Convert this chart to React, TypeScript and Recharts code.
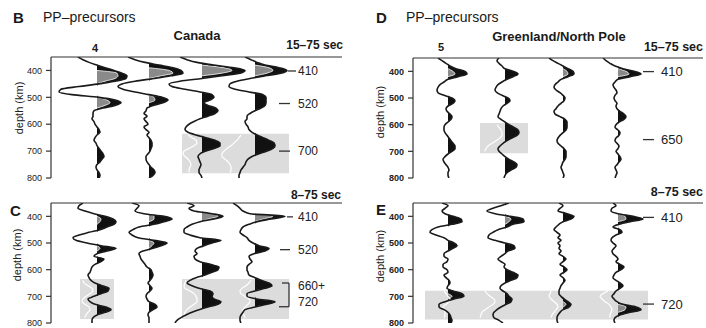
import React from 'react';
import { ComposedChart, Line, Area, XAxis, YAxis, ReferenceArea, ReferenceLine } from 'recharts';

const FONT = '"Liberation Sans", Arial, Helvetica, sans-serif';

// depth grid (km)
const depths = [
  350, 360, 370, 380, 390, 400, 410, 420, 430, 440,
  450, 460, 470, 480, 490, 500, 510, 520, 530, 540,
  550, 560, 570, 580, 590, 600, 610, 620, 630, 640,
  650, 660, 670, 680, 690, 700, 710, 720, 730, 740,
  750, 760, 770, 780, 790, 800,
];
const depthTicks = [400, 500, 600, 700, 800];

// ---- Panel B: Canada, 15-75 sec ----
const bTrace1 = [
  -19, -14, -8, 0, 8, 17, 25, 30, 29, 18,
  2, -18, -36, -38, -25, 2, 18, 24, 18, 6,
  -3, -4, -4, -5, -3, -2, 0, 2, 3, 0,
  -2, -3, -1, 0, 2, 4, 6, 7, 5, 3,
  0, -1, 0, 2, 3, 2,
];
const bTrace2 = [
  -21, -14, -4, 10, 24, 32, 34, 22, 5, -14,
  -27, -31, -26, -14, 0, 13, 19, 14, 4, -2,
  -3, -5, -2, -5, -3, -1, -5, -3, 0, -2,
  0, 2, 3, 3, 2, 1, -1, -3, -3, -2,
  0, 2, 5, 6, 4, 0,
];
const bTrace3 = [
  -22, -15, -5, 12, 32, 43, 38, 20, 0, -22,
  -33, -30, -17, -2, 10, 12, 8, 2, 6, 14,
  16, 13, 6, -2, -8, -13, -16, -17, -14, -6,
  4, 13, 18, 18, 12, 4, -2, -4, -3, -2,
  -1, -2, -3, -3, -1, 0,
];
const bTrace4 = [
  -10, -4, 2, 10, 24, 32, 26, 10, -5, -18,
  -25, -26, -20, -6, 8, 11, 11, 11, 10, 6,
  0, -5, -8, -8, -10, -9, -7, -6, -3, 2,
  8, 14, 19, 20, 18, 12, 4, -3, -7, -9,
  -10, -12, -14, -15, -16, -16,
];
const bGray: Record<number, number>[] = [
  { 400: 0, 410: 20, 420: 21, 430: 18, 440: 8, 450: 0, 500: 0, 510: 10, 520: 13, 530: 8, 540: 0 },
  { 390: 0, 400: 20, 410: 24, 420: 12, 430: 0, 490: 0, 500: 5, 510: 6, 520: 0 },
  { 380: 0, 390: 22, 400: 30, 410: 20, 420: 0 },
  { 380: 0, 390: 14, 400: 18, 410: 12, 420: 0 },
];
const bWhite: Record<number, number>[] = [
  {},
  {},
  { 640: -14, 650: -10, 660: -6, 670: -5, 680: -8, 690: -13, 700: -18, 710: -19, 720: -17, 730: -14, 740: -12, 750: -11, 760: -12, 770: -13, 780: -13 },
  { 640: -14, 650: -16, 660: -18, 670: -21, 680: -24, 690: -28, 700: -31, 710: -33, 720: -33, 730: -30, 740: -27, 750: -25, 760: -24, 770: -24, 780: -25 },
];

// ---- Panel C: Canada, 8-75 sec ----
const cTrace1 = [
  -14, -18, -19, -12, -3, 8, 16, 19, 17, 10,
  3, -8, -18, -24, -21, -10, 4, 19, 10, 0,
  -3, 7, 4, -2, -5, -6, -7, -9, -8, -6,
  -2, 5, 12, 11, 4, -3, -9, -7, -2, 9,
  14, 8, 0, -4, -5, -5,
];
const cTrace2 = [
  -17, -10, -12, -14, -5, 15, 23, 15, 5, -10,
  -16, -20, -17, -11, 5, 18, 12, 4, -6, -10,
  -9, -8, -6, -4, -2, 2, 3, 4, 3, 1,
  -1, 1, 3, 1, -2, -3, -2, 0, 6, 8,
  4, 0, -1, 0, 0, 0,
];
const cTrace3 = [
  -15, -8, -13, -8, 10, 21, 12, -2, -10, -15,
  -18, -18, -12, -2, 19, 10, 2, -5, -7, -5,
  -8, -7, -2, 8, 17, 16, 10, 3, -6, -12,
  -15, -10, -3, 8, 11, 10, 12, 19, 16, 6,
  -3, -10, -16, -21, -25, -27,
];
const cTrace4 = [
  -22, -18, -15, -12, -5, 30, 16, 2, -6, -12,
  -14, -15, -12, -8, -6, -2, 4, 14, 10, -1,
  -6, -5, -3, -6, -8, -8, -7, -6, 0, 6,
  14, 17, 10, 0, -8, -8, 2, 20, 12, 0,
  -10, -12, -14, -15, -15, -14,
];
const cGray: Record<number, number>[] = [
  { 400: 0, 410: 4, 420: 3, 430: 0, 510: 0, 520: 3, 530: 0 },
  { 390: 0, 400: 5, 410: 5, 420: 0, 490: 0, 500: 5, 510: 3, 520: 0 },
  { 380: 0, 390: 12, 400: 16, 410: 6, 420: 0 },
  { 390: 0, 400: 18, 410: 8, 420: 0 },
];
const cWhite: Record<number, number>[] = [
  { 640: -14, 650: -13, 660: -9, 670: -5, 680: -4, 690: -7, 700: -11, 710: -14, 720: -15, 730: -12, 740: -8, 750: -7, 760: -9, 770: -11, 780: -12 },
  {},
  { 640: -16, 650: -17, 660: -18, 670: -17, 680: -12, 690: -8, 700: -6, 710: -5, 720: -5, 730: -8, 740: -12, 750: -15, 760: -17, 770: -18, 780: -18 },
  { 640: -4, 650: -6, 660: -9, 670: -13, 680: -15, 690: -14, 700: -10, 710: -6, 720: -5, 730: -7, 740: -10, 750: -12, 760: -12, 770: -11, 780: -10 },
];

// ---- Panel D: Greenland/North Pole, 15-75 sec ----
const dTrace1 = [
  -10, -6, -2, 2, 8, 17, 19, 10, 0, -4,
  -8, -10, -11, -10, -4, 4, 7, 5, 0, -2,
  -1, 2, 4, 3, 0, -3, -4, -4, -3, -1,
  1, 3, 5, 7, 7, 4, 0, -3, -5, -4,
  -2, 0, 1, 0, 0, 1,
];
const dTrace2 = [
  -6, -8, -6, -3, 0, 8, 13, 8, 2, -3,
  -7, -9, -10, -8, -3, 3, 5, 2, -2, -4,
  -5, -6, -7, -4, 0, 4, 9, 13, 14, 12,
  7, 2, -2, -5, -7, -6, -3, 0, 4, 9,
  12, 11, 6, 2, 0, -1,
];
const dTrace3 = [
  -14, -10, -5, 0, 5, 10, 11, 5, -2, -5,
  -8, -9, -7, -3, 0, 2, 1, -2, -5, -7,
  -9, -8, -3, 2, 4, 4, 4, 3, 0, -3,
  -5, -6, -5, -2, 1, 3, 3, 3, 2, 0,
  -1, -2, -1, 0, 1, 0,
];
const dTrace4 = [
  -15, -12, -8, -3, 5, 16, 23, 12, 0, -3,
  -5, -4, -2, -1, -3, -4, -3, -1, -2, -1,
  2, 6, 8, 6, 1, -2, -3, 0, 2, 1,
  -2, -3, -1, 1, 0, -2, 0, 2, 3, 1,
  -1, -3, -2, -1, -2, -3,
];
const dGray: Record<number, number>[] = [
  { 390: 0, 400: 5, 410: 7, 420: 0 },
  {},
  { 390: 0, 400: 4, 410: 5, 420: 0 },
  { 390: 0, 400: 8, 410: 11, 420: 0 },
];
const dWhite: Record<number, number>[] = [
  {},
  { 600: -8, 610: -6, 620: -4, 630: -3, 640: -3, 650: -5, 660: -9, 670: -13, 680: -17, 690: -19, 700: -20 },
  {},
  {},
];

// ---- Panel E: Greenland/North Pole, 8-75 sec ----
const eTrace1 = [
  -6, 0, -3, -6, -3, 5, 13, 14, 4, -10,
  -16, -18, -12, -4, 0, 6, 9, 5, 0, -4,
  -4, 0, -1, -5, -5, -1, 0, -4, -2, 1,
  2, 0, -1, 5, 14, 16, 6, -3, -9, -9,
  -4, 0, 2, 3, 4, 3,
];
const eTrace2 = [
  4, -4, -12, -18, -10, 5, 18, 19, 8, 2,
  -7, -12, -16, -17, -10, 0, 9, 10, 3, 0,
  -4, -7, -4, 0, -1, 2, 8, 13, 12, 6,
  0, -4, -5, -2, 2, 4, 7, 6, 1, -4,
  -8, -11, -12, -11, -6, -2,
];
const eTrace3 = [
  -4, 0, -3, -5, 4, 11, 8, 0, -4, -7,
  -9, -6, -3, -5, -2, -5, -3, -4, -2, -4,
  0, 3, 0, -3, 1, 4, 1, -3, 0, 2,
  0, -2, -3, -4, -4, -2, 1, 5, 8, 6,
  0, -3, -5, -6, -6, -5,
];
const eTrace4 = [
  -5, -2, -6, -7, 0, 15, 25, 12, 1, -5,
  2, 4, -2, -6, -7, -5, -2, -4, -6, -5,
  -2, 0, -2, 2, 6, 3, -2, -4, -5, -2,
  2, 5, 2, -2, -4, -6, -4, -1, 5, 18,
  23, 12, 2, -3, -4, -3,
];
const eGray: Record<number, number>[] = [
  { 690: 0, 700: 4, 710: 0 },
  { 400: 0, 410: 6, 420: 4, 430: 0 },
  { 720: 0, 730: 3, 740: 0 },
  { 390: 0, 400: 7, 410: 8, 420: 0, 730: 0, 740: 8, 750: 7, 760: 0 },
];
const eWhite: Record<number, number>[] = [
  { 680: -4, 690: -2, 700: 0, 710: 2, 720: 1, 730: -2, 740: -5, 750: -4, 760: -3, 770: -3, 780: -4 },
  { 680: -20, 690: -18, 700: -15, 710: -11, 720: -10, 730: -12, 740: -16, 750: -20, 760: -23, 770: -24, 780: -25 },
  { 680: -12, 690: -13, 700: -14, 710: -12, 720: -9, 730: -6, 740: -5, 750: -7, 760: -9, 770: -11, 780: -12 },
  { 680: -10, 690: -15, 700: -18, 710: -16, 720: -13, 730: -9, 740: -7, 750: -6, 760: -7, 770: -8, 780: -8 },
];

// trace baselines (amplitude-axis units)
const offsetsLeft = [46, 98, 151, 204];
const offsetsRight = [35, 92, 150, 205];

type Rect = [number, number, number, number];
type Dash = [number, number, number];
type VSeg = [number, number, number];
type Txt = [string, number];

function buildRows(traces: number[][], offsets: number[], grays: Record<number, number>[], whites: Record<number, number>[]) {
  return depths.map((d, i) => {
    const row: Record<string, number | null> = { depth: d };
    traces.forEach((tr, k) => {
      const o = offsets[k];
      const v = tr[i];
      row[`l${k}`] = o + v;
      row[`f${k}`] = o + Math.max(v, 0);
      const g = grays[k][d];
      row[`g${k}`] = g === undefined ? null : o + g;
      const w = whites[k][d];
      row[`w${k}`] = w === undefined ? null : o + w;
    });
    return row;
  });
}

interface PanelProps {
  left: number;
  top: number;
  width: number;
  height: number;
  margin: { top: number; right: number; bottom: number; left: number };
  xMax: number;
  traces: number[][];
  offsets: number[];
  grays: Record<number, number>[];
  whites: Record<number, number>[];
  rects: Rect[];
  dashes: Dash[];
  vsegs: VSeg[];
  texts: Txt[];
  textX: number;
  labelSize: number;
  boldTicks: boolean;
}

function Panel(p: PanelProps) {
  const rows = buildRows(p.traces, p.offsets, p.grays, p.whites);
  return (
    <div style={{ position: 'absolute', left: p.left, top: p.top }}>
      <ComposedChart layout="vertical" width={p.width} height={p.height} data={rows} margin={p.margin}>
        <XAxis type="number" domain={[0, p.xMax]} hide allowDataOverflow />
        <YAxis
          type="number"
          dataKey="depth"
          domain={[350, 800]}
          ticks={depthTicks}
          interval={0}
          allowDataOverflow
          width={51}
          tickSize={5}
          tickMargin={4}
          axisLine={{ stroke: '#333', strokeWidth: 1.2 }}
          tickLine={{ stroke: '#333', strokeWidth: 1.2 }}
          tick={{ fontSize: 9, fill: '#222', fontFamily: FONT, fontWeight: p.boldTicks ? 'bold' : 'normal' }}
        />
        {p.rects.map((r, i) => (
          <ReferenceArea key={`r${i}`} x1={r[0]} x2={r[1]} y1={r[2]} y2={r[3]} fill="#dcdcdc" fillOpacity={1} stroke="none" ifOverflow="visible" />
        ))}
        {p.offsets.map((o, k) => (
          <Area key={`f${k}`} dataKey={`f${k}`} baseValue={o} type="monotone" fill="#111" fillOpacity={1} stroke="none" dot={false} activeDot={false} isAnimationActive={false} />
        ))}
        {p.offsets.map((o, k) => (
          <Area key={`g${k}`} dataKey={`g${k}`} baseValue={o} type="monotone" fill="#8a8a8a" fillOpacity={1} stroke="#fff" strokeWidth={0.8} dot={false} activeDot={false} isAnimationActive={false} />
        ))}
        {p.offsets.map((o, k) => (
          <Line key={`w${k}`} dataKey={`w${k}`} type="monotone" stroke="#fff" strokeWidth={1.2} dot={false} activeDot={false} isAnimationActive={false} />
        ))}
        {p.offsets.map((o, k) => (
          <Line key={`l${k}`} dataKey={`l${k}`} type="monotone" stroke="#1a1a1a" strokeWidth={1.6} dot={false} activeDot={false} isAnimationActive={false} />
        ))}
        <ReferenceLine y={350} stroke="#333" strokeWidth={1.2} ifOverflow="visible" />
        {p.dashes.map((s, i) => (
          <ReferenceLine key={`d${i}`} segment={[{ x: s[0], y: s[2] }, { x: s[1], y: s[2] }]} stroke="#333" strokeWidth={1.3} ifOverflow="visible" />
        ))}
        {p.vsegs.map((s, i) => (
          <ReferenceLine key={`v${i}`} segment={[{ x: s[0], y: s[1] }, { x: s[0], y: s[2] }]} stroke="#333" strokeWidth={1.3} ifOverflow="visible" />
        ))}
        {p.texts.map((t, i) => (
          <ReferenceLine
            key={`t${i}`}
            segment={[{ x: p.textX, y: t[1] }, { x: p.textX, y: t[1] }]}
            stroke="none"
            ifOverflow="visible"
            label={{ value: t[0], position: 'right', offset: 0, fill: '#222', fontSize: p.labelSize, fontFamily: FONT }}
          />
        ))}
      </ComposedChart>
    </div>
  );
}

const titleTexts: { t: string; x: number; y: number; a: 'start' | 'middle' | 'end'; s: number; b: boolean }[] = [
  { t: 'B', x: 13, y: 23, a: 'start', s: 15, b: true },
  { t: 'PP–precursors', x: 43, y: 22, a: 'start', s: 14, b: false },
  { t: 'Canada', x: 197, y: 40, a: 'middle', s: 13, b: true },
  { t: '4', x: 95, y: 52, a: 'middle', s: 11, b: true },
  { t: '15–75 sec', x: 343, y: 49, a: 'end', s: 12, b: true },
  { t: 'C', x: 10, y: 216, a: 'start', s: 15, b: true },
  { t: '8–75 sec', x: 341, y: 199, a: 'end', s: 12, b: true },
  { t: 'D', x: 376, y: 23, a: 'start', s: 15, b: true },
  { t: 'PP–precursors', x: 406, y: 22, a: 'start', s: 14, b: false },
  { t: 'Greenland/North Pole', x: 559, y: 41, a: 'middle', s: 13, b: true },
  { t: '5', x: 441, y: 51, a: 'middle', s: 11, b: true },
  { t: '15–75 sec', x: 703, y: 51, a: 'end', s: 12.5, b: true },
  { t: 'E', x: 376, y: 215, a: 'start', s: 15, b: true },
  { t: '8–75 sec', x: 703, y: 196, a: 'end', s: 12.5, b: true },
];
const axisTitles: [number, number][] = [
  [19, 108],
  [17, 255],
  [380, 112],
  [380, 256],
];

export default function App() {
  return (
    <div style={{ position: 'absolute', left: 0, top: 0, width: 706, height: 328, background: '#fff', overflow: 'hidden' }}>
      <Panel
        left={0} top={0} width={353} height={186}
        margin={{ top: 57, right: 11, bottom: 8, left: 0 }}
        xMax={291}
        traces={[bTrace1, bTrace2, bTrace3, bTrace4]}
        offsets={offsetsLeft}
        grays={bGray}
        whites={bWhite}
        rects={[[131, 238, 635, 782]]}
        dashes={[[237, 245, 402], [228, 239, 523], [228, 239, 700]]}
        vsegs={[]}
        texts={[['410', 402], ['520', 523], ['700', 700]]}
        textX={247}
        labelSize={12}
        boldTicks={false}
      />
      <Panel
        left={0} top={150} width={353} height={178}
        margin={{ top: 53, right: 11, bottom: 5, left: 0 }}
        xMax={291}
        traces={[cTrace1, cTrace2, cTrace3, cTrace4]}
        offsets={offsetsLeft}
        grays={cGray}
        whites={cWhite}
        rects={[[29, 63, 635, 785], [131, 238, 635, 785]]}
        dashes={[[236, 242, 402], [229, 239, 525], [231, 238, 650], [228, 238, 739]]}
        vsegs={[[238, 650, 739]]}
        texts={[['410', 402], ['520', 525], ['660+', 662], ['720', 722]]}
        textX={247}
        labelSize={12}
        boldTicks={false}
      />
      <Panel
        left={353} top={0} width={353} height={186}
        margin={{ top: 58, right: 3, bottom: 8, left: 9 }}
        xMax={290}
        traces={[dTrace1, dTrace2, dTrace3, dTrace4]}
        offsets={offsetsRight}
        grays={dGray}
        whites={dWhite}
        rects={[[67, 115, 594, 707]]}
        dashes={[[230, 241, 401], [230, 241, 656]]}
        vsegs={[]}
        texts={[['410', 401], ['650', 656]]}
        textX={248}
        labelSize={13}
        boldTicks={true}
      />
      <Panel
        left={353} top={150} width={353} height={178}
        margin={{ top: 53, right: 3, bottom: 5, left: 9 }}
        xMax={290}
        traces={[eTrace1, eTrace2, eTrace3, eTrace4]}
        offsets={offsetsRight}
        grays={eGray}
        whites={eWhite}
        rects={[[12, 235, 679, 787]]}
        dashes={[[230, 241, 404], [230, 241, 729]]}
        vsegs={[]}
        texts={[['410', 404], ['720', 729]]}
        textX={248}
        labelSize={13}
        boldTicks={true}
      />
      <svg width={706} height={328} style={{ position: 'absolute', left: 0, top: 0, pointerEvents: 'none' }}>
        {titleTexts.map((t, i) => (
          <text key={i} x={t.x} y={t.y} textAnchor={t.a} fontSize={t.s} fontWeight={t.b ? 'bold' : 'normal'} fontFamily={FONT} fill="#1a1a1a">
            {t.t}
          </text>
        ))}
        {axisTitles.map((a, i) => (
          <text key={`a${i}`} x={a[0]} y={a[1]} transform={`rotate(-90 ${a[0]} ${a[1]})`} textAnchor="middle" dominantBaseline="central" fontSize={11} fontFamily={FONT} fill="#222">
            depth (km)
          </text>
        ))}
      </svg>
    </div>
  );
}
